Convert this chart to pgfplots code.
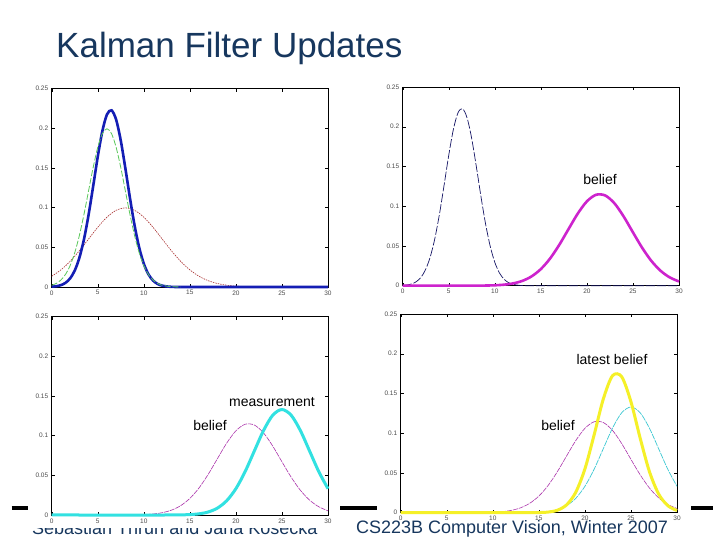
\documentclass[border=0pt]{standalone}
\usepackage{fontspec}
\setmainfont{Liberation Sans}
\usepackage{pgfplots}
\pgfplotsset{compat=1.18}
\definecolor{navytxt}{RGB}{23,55,94}
\definecolor{cblue}{RGB}{20,30,180}
\definecolor{cgreen}{RGB}{90,200,90}
\definecolor{cred}{RGB}{170,50,50}
\definecolor{cnavy}{RGB}{20,20,100}
\definecolor{cmag}{RGB}{205,35,205}
\definecolor{cmagthin}{RGB}{170,50,170}
\definecolor{ccyan}{RGB}{50,225,225}
\definecolor{ccyanthin}{RGB}{60,200,210}
\definecolor{cyellow}{RGB}{245,240,40}
\pgfplotsset{
  kf/.style={
    scale only axis, width=276.3pt, height=198.3pt,
    xmin=0, xmax=30, ymin=0, ymax=0.25,
    xtick={0,5,10,15,20,25,30},
    ytick={0,0.05,0.1,0.15,0.2,0.25},
    yticklabels={0,0.05,0.1,0.15,0.2,0.25},
    tick align=inside, major tick length=3pt,
    axis line style={line width=0.5pt, black},
    every tick/.style={black, line width=0.4pt},
    tick label style={font=\fontsize{6.5}{7}\selectfont, color=black!70},
    /pgf/number format/assume math mode=true,
    clip=false,
  },
}
\begin{document}
\begin{tikzpicture}[x=1pt,y=1pt]
\path[use as bounding box, fill=white] (0,0) rectangle (720,540);
% title
\node[anchor=base west, inner sep=0, text=navytxt, font=\fontsize{35}{40}\selectfont] at (56,482.5) {Kalman Filter Updates};
% footer
\draw[line width=3.5pt, black] (11.7,32) -- (28.3,32);
\draw[line width=3.5pt, black] (340,32) -- (377,32);
\draw[line width=3.5pt, black] (690.7,32) -- (713,32);
\node[anchor=base west, inner sep=0, text=navytxt, font=\fontsize{18}{20}\selectfont] at (32,5) {Sebastian Thrun and Jana Kosecka};
\node[anchor=base west, inner sep=0, text=navytxt, font=\fontsize{18}{20}\selectfont] at (356,6) {CS223B Computer Vision, Winter 2007};
\fill[white] (28.3,12) rectangle (340,240);
\fill[white] (377,20) rectangle (690.7,240);

% top left
\begin{axis}[kf, at={(51.7pt,253pt)}, anchor=south west]
\addplot[cred, line width=0.6pt, dash pattern=on 1.5pt off 1pt, smooth] coordinates {
(0,0.01350)(1,0.02158)(2,0.03238)(3,0.04566)(4,0.06049)(5,0.07528)(6,0.08802)(7,0.09667)(8,0.09974)(9,0.09667)(10,0.08802)(11,0.07528)(12,0.06049)(13,0.04566)(14,0.03238)(15,0.02158)(16,0.01350)(17,0.00794)(18,0.00438)(19,0.00227)(20,0.00111)(21,0.00051)(22,0.00022)(23,0.0001)(24,0)(30,0)};
\addplot[cblue, line width=2.6pt, smooth] coordinates {
(0,0.00037)(0.5,0.00097)(1,0.00234)(1.5,0.00524)(2,0.01083)(2.5,0.0207)(3,0.0366)(3.5,0.0599)(4,0.0907)(4.5,0.1269)(5,0.1642)(5.5,0.1965)(6,0.2175)(6.5,0.2227)(7,0.2108)(7.5,0.1846)(8,0.1495)(8.5,0.1120)(9,0.0776)(9.5,0.0497)(10,0.0294)(10.5,0.0161)(11,0.0082)(11.5,0.0038)(12,0.0017)(12.5,0.0007)(13,0.0002)(14,0)(20,0)(25,0)(30,0)};
\addplot[cgreen, line width=0.8pt, dash pattern=on 6pt off 2pt, smooth] coordinates {
(0,0.0022)(0.5,0.0045)(1,0.0088)(1.5,0.0159)(2,0.0270)(2.5,0.0431)(3,0.0648)(3.5,0.0913)(4,0.1210)(4.5,0.1506)(5,0.1760)(5.5,0.1933)(6,0.1995)(6.5,0.1933)(7,0.1760)(7.5,0.1506)(8,0.1210)(8.5,0.0913)(9,0.0648)(9.5,0.0431)(10,0.0270)(10.5,0.0159)(11,0.0088)(11.5,0.0045)(12,0.0022)(13,0.0004)(14,0.0001)};
\end{axis}

% top right
\begin{axis}[kf, at={(402.7pt,254.3pt)}, anchor=south west, height=198.7pt]
\addplot[cnavy, line width=0.7pt, dash pattern=on 9pt off 2pt, smooth] coordinates {
(0,0.00037)(0.5,0.00097)(1,0.00234)(1.5,0.00524)(2,0.01083)(2.5,0.0207)(3,0.0366)(3.5,0.0599)(4,0.0907)(4.5,0.1269)(5,0.1642)(5.5,0.1965)(6,0.2175)(6.5,0.2227)(7,0.2108)(7.5,0.1846)(8,0.1495)(8.5,0.1120)(9,0.0776)(9.5,0.0497)(10,0.0294)(10.5,0.0161)(11,0.0082)(11.5,0.0038)(12,0.0017)(12.5,0.0007)(13,0.0002)(14,0)(20,0)(25,0)(30,0)};
\addplot[cmag, line width=2.6pt, smooth] coordinates {
(0,0)(7,0)(8,0.00006)(9,0.00019)(10,0.00051)(11,0.00127)(12,0.00290)(13,0.00609)(14,0.01176)(15,0.02089)(16,0.03417)(17,0.05140)(18,0.07113)(19,0.09059)(20,0.10613)(21,0.11440)(22,0.11344)(23,0.10351)(24,0.08689)(25,0.06710)(26,0.04769)(27,0.03117)(28,0.01875)(29,0.01038)(30,0.00529)};
\end{axis}

% bottom left
\begin{axis}[kf, at={(51.7pt,25pt)}, anchor=south west]
\addplot[cmagthin, line width=0.6pt, dash pattern=on 5pt off 1pt, smooth] coordinates {
(7,0)(8,0.00006)(9,0.00019)(10,0.00051)(11,0.00127)(12,0.00290)(13,0.00609)(14,0.01176)(15,0.02089)(16,0.03417)(17,0.05140)(18,0.07113)(19,0.09059)(20,0.10613)(21,0.11440)(22,0.11344)(23,0.10351)(24,0.08689)(25,0.06710)(26,0.04769)(27,0.03117)(28,0.01875)(29,0.01038)(30,0.00529)};
\addplot[ccyan, line width=3pt, smooth] coordinates {
(0,0)(13,0)(14,0.00016)(15,0.00051)(16,0.00148)(17,0.00380)(18,0.00874)(19,0.01800)(20,0.03317)(21,0.05467)(22,0.08066)(23,0.10648)(24,0.12580)(25,0.13298)(26,0.12580)(27,0.10648)(28,0.08066)(29,0.05467)(30,0.03317)};
\end{axis}

% bottom right
\begin{axis}[kf, at={(400.7pt,27.3pt)}, anchor=south west, height=198.7pt]
\addplot[cmagthin, line width=0.6pt, dash pattern=on 5pt off 1pt, smooth] coordinates {
(7,0)(8,0.00006)(9,0.00019)(10,0.00051)(11,0.00127)(12,0.00290)(13,0.00609)(14,0.01176)(15,0.02089)(16,0.03417)(17,0.05140)(18,0.07113)(19,0.09059)(20,0.10613)(21,0.11440)(22,0.11344)(23,0.10351)(24,0.08689)(25,0.06710)(26,0.04769)(27,0.03117)(28,0.01875)(29,0.01038)(30,0.00529)};
\addplot[ccyanthin, line width=0.7pt, dash pattern=on 6pt off 1pt, smooth] coordinates {
(13,0)(14,0.00016)(15,0.00051)(16,0.00148)(17,0.00380)(18,0.00874)(19,0.01800)(20,0.03317)(21,0.05467)(22,0.08066)(23,0.10648)(24,0.12580)(25,0.13298)(26,0.12580)(27,0.10648)(28,0.08066)(29,0.05467)(30,0.03317)};
\addplot[cyellow, line width=3pt, smooth] coordinates {
(0,0)(13,0)(14,0.00003)(15,0.00017)(16,0.00079)(17,0.00306)(18,0.00973)(19,0.02551)(20,0.05505)(21,0.09783)(22,0.14311)(23,0.17238)(24,0.17094)(25,0.13956)(26,0.09382)(27,0.05191)(28,0.02366)(29,0.00887)(30,0.00274)};
\end{axis}

% annotations
\node[anchor=base, inner sep=0, font=\fontsize{14}{16}\selectfont] at (600,355) {belief};
\node[anchor=base, inner sep=0, font=\fontsize{14}{16}\selectfont] at (272,133) {measurement};
\node[anchor=base, inner sep=0, font=\fontsize{14}{16}\selectfont] at (210,109) {belief};
\node[anchor=base, inner sep=0, font=\fontsize{14}{16}\selectfont] at (612,175) {latest belief};
\node[anchor=base, inner sep=0, font=\fontsize{14}{16}\selectfont] at (558,109) {belief};
\end{tikzpicture}
\end{document}
